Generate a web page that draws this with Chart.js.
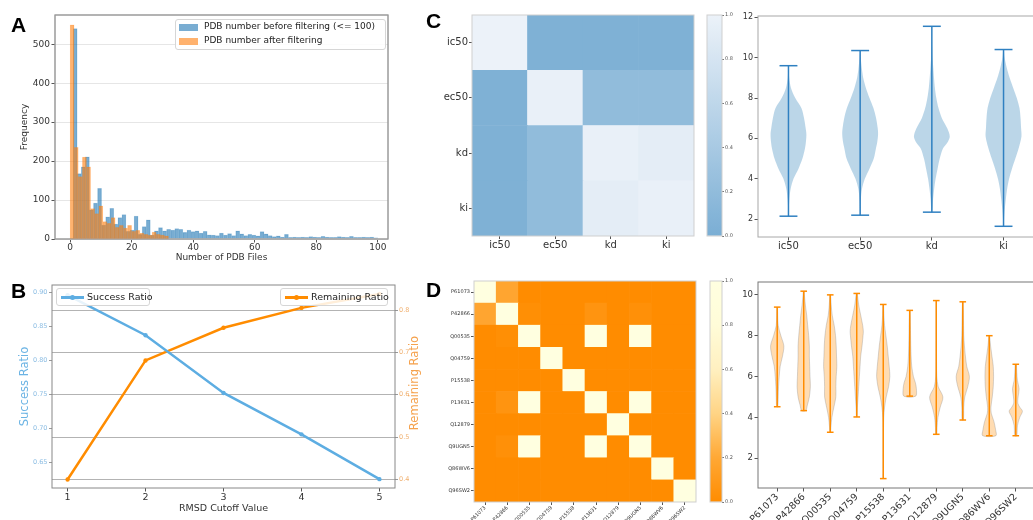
<!DOCTYPE html>
<html>
<head>
<meta charset="utf-8">
<title>PDB filtering and affinity overview</title>
<script src="https://cdn.jsdelivr.net/npm/chart.js@4.4.0/dist/chart.umd.min.js"></script>
<style>
  body { margin: 0; width: 1033px; height: 520px; overflow: hidden; background: #fff; position: relative; font-family: "DejaVu Sans", sans-serif; }
  canvas { position: absolute; }
  .letter { position: absolute; font-family: "Liberation Sans", Arial, sans-serif; font-weight: bold; font-size: 21px; line-height: 21px; color: #000; }
  .legend { position: absolute; box-sizing: border-box; border: 1px solid #d6d6d6; border-radius: 3px; background: rgba(255,255,255,0.85); color: #222; }
  .legend span { position: absolute; white-space: nowrap; }
  .patch { width: 19px; height: 7px; }
  .lsample { height: 2.5px; }
  .ldot { width: 5px; height: 5px; border-radius: 50%; }
  .vtitle { position: absolute; white-space: nowrap; transform: translate(-50%, -50%) rotate(-90deg); font-size: 11.5px; line-height: 14px; }
</style>
</head>
<body>

<!-- A is two stacked canvases: before filtering underneath, after filtering on top -->
<canvas id="histA" style="left:0;top:0" width="395" height="269"></canvas>
<canvas id="histA2" style="left:0;top:0" width="395" height="269"></canvas>
<canvas id="lineB" style="left:0;top:270px" width="425" height="250"></canvas>
<canvas id="heatC" style="left:420px;top:0" width="280" height="260"></canvas>
<canvas id="barC" style="left:700px;top:0" width="45" height="260"></canvas>
<canvas id="violinC" style="left:730px;top:0" width="306" height="260"></canvas>
<canvas id="heatD" style="left:420px;top:265px" width="280" height="255"></canvas>
<canvas id="barD" style="left:700px;top:265px" width="45" height="255"></canvas>
<canvas id="violinD" style="left:730px;top:265px" width="306" height="255"></canvas>

<div class="letter" style="left:11px;top:14px">A</div>
<div class="letter" style="left:11px;top:280px">B</div>
<div class="letter" style="left:426px;top:10px">C</div>
<div class="letter" style="left:426px;top:279px">D</div>

<div class="legend" style="left:175px;top:19px;width:211px;height:31px;font-size:9px">
  <span class="patch" style="left:3px;top:4px;background:rgba(31,119,180,0.6)"></span>
  <span style="left:28px;top:1px">PDB number before filtering (&lt;= 100)</span>
  <span class="patch" style="left:3px;top:18px;background:rgba(255,127,14,0.6)"></span>
  <span style="left:28px;top:15px">PDB number after filtering</span>
</div>

<div class="legend" style="left:56px;top:288px;width:94px;height:18px;font-size:9.5px">
  <span class="lsample" style="left:4px;top:7px;width:23px;background:#5dade2"></span>
  <span class="ldot" style="left:13px;top:6px;background:#5dade2"></span>
  <span style="left:30px;top:2px">Success Ratio</span>
</div>
<div class="legend" style="left:280px;top:288px;width:108px;height:18px;font-size:9.5px">
  <span class="lsample" style="left:4px;top:7px;width:23px;background:#ff8c00"></span>
  <span class="ldot" style="left:13px;top:6px;background:#ff8c00"></span>
  <span style="left:30px;top:2px">Remaining Ratio</span>
</div>
<!-- matplotlib writes the twin-axis label bottom-to-top, Chart.js would flip it -->
<div class="vtitle" style="left:414px;top:383px;color:#f5a24d">Remaining Ratio</div>

<script>
// ---- A: histogram of PDB files per target ----
const beforeBinStart = 1;
const beforeBinWidth = 1.32;
const beforeCounts = [540, 168, 185, 211, 75, 92, 130, 36, 57, 79, 38, 55, 63, 20, 23, 59, 12, 32, 49, 10,
  21, 29, 21, 25, 23, 27, 25, 17, 23, 19, 21, 15, 20, 11, 10, 9, 15, 10, 14, 9,
  21, 13, 9, 12, 10, 8, 19, 13, 9, 6, 8, 5, 12, 4, 5, 4, 5, 4, 6, 5,
  4, 7, 5, 4, 4, 6, 5, 4, 7, 4, 4, 5, 4, 5, 3];
const afterBinStart = 0;
const afterBinWidth = 1.333;
const afterCounts = [550, 235, 160, 210, 185, 78, 65, 85, 45, 40, 55, 30, 35, 28, 35, 20, 22, 15, 12, 10, 18, 12, 10, 8];
const histXTicks = [0, 20, 40, 60, 80, 100];
const histYTicks = [0, 100, 200, 300, 400, 500];

// ---- B: RMSD cutoff ----
const rmsdCutoffs = [1, 2, 3, 4, 5];
const successRatio = [0.896, 0.837, 0.752, 0.691, 0.625];
const remainingRatio = [0.400, 0.681, 0.758, 0.805, 0.838];
const successTicks = [0.65, 0.70, 0.75, 0.80, 0.85, 0.90];
const remainingTicks = [0.4, 0.5, 0.6, 0.7, 0.8];

// ---- C: affinity types ----
const affinityTypes = ['ic50', 'ec50', 'kd', 'ki'];
const affinityCorr = [
  [1.00, 0.04, 0.04, 0.04],
  [0.04, 0.97, 0.20, 0.20],
  [0.04, 0.20, 0.97, 0.93],
  [0.04, 0.20, 0.93, 0.97]
];
// violin outlines: [value, relative half width]
const affinityViolins = [
  [[9.6,0.01],[9,0.04],[8.5,0.14],[8,0.38],[7.5,0.72],[7,0.87],[6.5,0.96],[6.2,1],[5.8,0.97],[5.5,0.92],[5,0.78],[4.5,0.56],[4,0.28],[3.5,0.12],[3,0.05],[2.5,0.02],[2.15,0.01]],
  [[10.35,0.01],[10,0.03],[9.5,0.09],[9,0.17],[8.5,0.32],[8,0.52],[7.5,0.74],[7,0.89],[6.5,0.98],[6.2,1],[5.8,0.95],[5.5,0.88],[5,0.76],[4.5,0.52],[4,0.26],[3.5,0.1],[3,0.04],[2.5,0.02],[2.2,0.01]],
  [[11.55,0.01],[11,0.01],[10.5,0.02],[10,0.04],[9.5,0.08],[9,0.12],[8.5,0.17],[8,0.25],[7.5,0.37],[7,0.56],[6.5,0.86],[6.1,1],[5.8,0.87],[5.5,0.62],[5,0.44],[4.5,0.32],[4,0.21],[3.5,0.13],[3,0.07],[2.35,0.02]],
  [[10.4,0.02],[10,0.06],[9.5,0.18],[9,0.34],[8.5,0.54],[8,0.74],[7.5,0.89],[7,0.95],[6.5,0.98],[6.1,1],[5.5,0.84],[5,0.66],[4.5,0.47],[4,0.31],[3.5,0.2],[3,0.13],[2.5,0.07],[2,0.03],[1.65,0.01]]
];
const affinityYTicks = [2, 4, 6, 8, 10, 12];

// ---- D: proteins ----
const proteins = ['P61073', 'P42866', 'Q00535', 'Q04759', 'P15538', 'P13631', 'Q12879', 'Q9UGN5', 'Q86WV6', 'Q96SW2'];
const proteinSim = [
  [1, 0.18, 0, 0, 0, 0, 0, 0, 0, 0],
  [0.18, 1, 0.02, 0, 0, 0.06, 0, 0.03, 0, 0],
  [0, 0.02, 1, 0, 0, 1, 0, 1, 0, 0],
  [0, 0, 0, 1, 0, 0, 0, 0, 0, 0],
  [0, 0, 0, 0, 1, 0, 0, 0, 0, 0],
  [0, 0.06, 1, 0, 0, 1, 0, 1, 0, 0],
  [0, 0, 0, 0, 0, 0, 1, 0, 0, 0],
  [0, 0.03, 1, 0, 0, 1, 0, 1, 0, 0],
  [0, 0, 0, 0, 0, 0, 0, 0, 1, 0],
  [0, 0, 0, 0, 0, 0, 0, 0, 0, 1]
];
const proteinViolins = [
  [[9.4,0.05],[9,0.07],[8.5,0.15],[8,0.55],[7.5,1],[7,0.8],[6.5,0.45],[6,0.3],[5.5,0.2],[5,0.15],[4.52,0.08]],
  [[10.18,0.08],[10,0.1],[9.5,0.25],[9,0.45],[8.5,0.6],[8,0.75],[7.5,0.85],[7,0.85],[6.5,0.9],[6,0.95],[5.5,1],[5,0.85],[4.6,0.55],[4.33,0.3]],
  [[10,0.05],[9.5,0.15],[9,0.3],[8.5,0.6],[8,0.8],[7.5,0.9],[7,0.95],[6.5,1],[6,0.9],[5.5,0.85],[5,0.85],[4.5,0.55],[4,0.25],[3.5,0.1],[3.27,0.05]],
  [[10.07,0.08],[9.5,0.3],[9,0.6],[8.5,0.9],[8.2,1],[8,0.95],[7.5,0.8],[7,0.6],[6.5,0.5],[6,0.4],[5.5,0.3],[5,0.2],[4.5,0.1],[4.02,0.05]],
  [[9.53,0.05],[9,0.1],[8.5,0.2],[8,0.4],[7.5,0.6],[7,0.75],[6.5,0.9],[6,1],[5.5,0.8],[5,0.45],[4.5,0.2],[4,0.07],[3,0.03],[2,0.02],[1,0.01]],
  [[9.24,0.05],[8.5,0.1],[8,0.12],[7.5,0.15],[7,0.2],[6.5,0.3],[6,0.55],[5.7,0.85],[5.4,1],[5.04,0.9]],
  [[9.72,0.02],[8,0.03],[7,0.04],[6,0.08],[5.5,0.3],[5,1],[4.5,0.6],[4,0.25],[3.5,0.12],[3.17,0.08]],
  [[9.66,0.05],[9,0.1],[8.5,0.12],[8,0.15],[7.5,0.25],[7,0.4],[6.5,0.6],[6,1],[5.5,0.75],[5,0.3],[4.5,0.15],[3.87,0.1]],
  [[8,0.05],[7.5,0.2],[7,0.4],[6.5,0.6],[6,0.65],[5.5,0.6],[5,0.45],[4.5,0.25],[4.2,0.3],[3.8,0.7],[3.4,0.95],[3.1,1]],
  [[6.6,0.1],[6.2,0.15],[5.8,0.25],[5.4,0.5],[5,0.35],[4.7,0.3],[4.5,0.6],[4.3,1],[4,0.6],[3.6,0.25],[3.1,0.15]]
];
const proteinYTicks = [2, 4, 6, 8, 10];
const colorbarTicks = [0, 0.2, 0.4, 0.6, 0.8, 1.0];

// ---------------------------------------------------------------
Chart.defaults.font.family = '"DejaVu Sans", sans-serif';
Chart.defaults.color = '#333';
Chart.defaults.animation = false;
Chart.defaults.plugins.legend.display = false;
Chart.defaults.plugins.tooltip.enabled = false;

// matplotlib style box round the plot area
Chart.register({
  id: 'frame',
  afterDraw(chart, args, opts) {
    const a = chart.chartArea;
    const ctx = chart.ctx;
    ctx.save();
    ctx.strokeStyle = opts.color || '#888';
    ctx.lineWidth = opts.width || 1;
    ctx.strokeRect(a.left, a.top, a.right - a.left, a.bottom - a.top);
    ctx.restore();
  }
});

const fixSize = px => scale => {
  if (scale.isHorizontal()) scale.height = px; else scale.width = px;
};
const setTicks = values => scale => {
  scale.ticks = values.map(v => ({ value: v }));
};

const bluesStops = [[0, [122, 174, 212]], [1, [236, 242, 249]]];
const orangeStops = [[0, [255, 140, 0]], [0.2, [255, 168, 53]], [0.4, [255, 212, 133]], [0.6, [255, 240, 192]], [0.8, [255, 252, 216]], [1, [255, 255, 224]]];

function cmap(stops, t) {
  for (let i = 1; i < stops.length; i++) {
    if (t <= stops[i][0]) {
      const [p0, c0] = stops[i - 1], [p1, c1] = stops[i];
      const f = (t - p0) / (p1 - p0);
      const c = c0.map((v, k) => Math.round(v + (c1[k] - v) * f));
      return 'rgb(' + c.join(',') + ')';
    }
  }
  return 'rgb(' + stops[stops.length - 1][1].join(',') + ')';
}

// ---- A ----
const histX = { min: -4.9, max: 103.3 };
const histY = { min: 0, max: 575 };

function histDataset(label, start, width, counts, fill, edge) {
  return {
    label,
    data: counts.map((c, i) => ({ x: start + width * (i + 0.5), y: c })),
    backgroundColor: fill, borderColor: edge, borderWidth: 0.5,
    categoryPercentage: 1, barPercentage: 1
  };
}

new Chart(document.getElementById('histA'), {
  type: 'bar',
  data: { datasets: [histDataset('PDB number before filtering (<= 100)', beforeBinStart, beforeBinWidth, beforeCounts,
    'rgba(31,119,180,0.6)', 'rgba(31,119,180,0.25)')] },
  options: {
    responsive: false,
    layout: { padding: { top: 15, right: 7, left: 0, bottom: 0 } },
    plugins: { frame: { color: '#9a9a9a' } },
    scales: {
      x: {
        type: 'linear', ...histX, offset: false,
        afterBuildTicks: setTicks(histXTicks), afterFit: fixSize(30),
        ticks: { font: { size: 9 }, padding: 0, maxRotation: 0 },
        grid: { drawOnChartArea: false, tickLength: 3.5, tickColor: '#555', offset: false },
        border: { display: false },
        title: { display: true, text: 'Number of PDB Files', font: { size: 9 }, padding: { top: 0, bottom: 5.6 } }
      },
      y: {
        ...histY,
        afterBuildTicks: setTicks(histYTicks), afterFit: fixSize(55),
        ticks: { font: { size: 9 }, padding: 1.5 },
        grid: { color: '#e6e6e6', tickLength: 3.5, tickColor: '#555' },
        border: { display: false },
        title: { display: true, text: 'Frequency', font: { size: 9 }, padding: { top: 19.6, bottom: 0 } }
      }
    }
  }
});

// same plot area, axes hidden: only the after-filtering bars
new Chart(document.getElementById('histA2'), {
  type: 'bar',
  data: { datasets: [histDataset('PDB number after filtering', afterBinStart, afterBinWidth, afterCounts,
    'rgba(255,127,14,0.6)', 'rgba(255,127,14,0.25)')] },
  options: {
    responsive: false,
    layout: { padding: { top: 15, right: 7, left: 55, bottom: 30 } },
    plugins: { frame: { color: '#9a9a9a' } },
    scales: {
      x: { type: 'linear', ...histX, offset: false, display: false },
      y: { ...histY, display: false }
    }
  }
});

// ---- B ----
new Chart(document.getElementById('lineB'), {
  type: 'line',
  data: {
    datasets: [
      {
        label: 'Success Ratio',
        data: rmsdCutoffs.map((x, i) => ({ x, y: successRatio[i] })),
        yAxisID: 'y',
        borderColor: '#5dade2', backgroundColor: '#5dade2',
        borderWidth: 2.5, pointRadius: 2.2, pointBorderWidth: 0, tension: 0
      },
      {
        label: 'Remaining Ratio',
        data: rmsdCutoffs.map((x, i) => ({ x, y: remainingRatio[i] })),
        yAxisID: 'y1',
        borderColor: '#ff8c00', backgroundColor: '#ff8c00',
        borderWidth: 2.5, pointRadius: 2.2, pointBorderWidth: 0, tension: 0
      }
    ]
  },
  options: {
    responsive: false,
    layout: { padding: { top: 15, right: 0, left: 0, bottom: 0 } },
    plugins: { frame: { color: '#888' } },
    scales: {
      x: {
        type: 'linear', min: 0.8, max: 5.2,
        afterBuildTicks: setTicks(rmsdCutoffs), afterFit: fixSize(32),
        ticks: { font: { size: 9.5 }, padding: 0, maxRotation: 0 },
        grid: { drawOnChartArea: false, tickLength: 3.5, tickColor: '#555' },
        border: { display: false },
        title: { display: true, text: 'RMSD Cutoff Value', font: { size: 9.5 }, padding: { top: 0, bottom: 5.3 } }
      },
      y: {
        position: 'left', min: 0.612, max: 0.911,
        afterBuildTicks: setTicks(successTicks), afterFit: fixSize(52),
        ticks: { font: { size: 6.5 }, color: '#8cbde3', padding: 1.5, callback: v => v.toFixed(2) },
        grid: { drawOnChartArea: false, tickLength: 3, tickColor: '#999' },
        border: { display: false },
        title: { display: true, text: 'Success Ratio', color: '#6cb4e4', font: { size: 11.5 }, padding: { top: 18, bottom: 0 } }
      },
      y1: {
        position: 'right', min: 0.38, max: 0.859,
        afterBuildTicks: setTicks(remainingTicks), afterFit: fixSize(30),
        ticks: { font: { size: 6.5 }, color: '#f0b070', padding: 1, callback: v => v.toFixed(1) },
        grid: { color: '#b3b3b3', tickLength: 3, tickColor: '#999' },
        border: { display: false }
      }
    }
  }
});

// ---- heatmaps: one stacked bar per column, one dataset per row ----
function heatmap(canvasId, names, matrix, stops, sizes) {
  const n = names.length;
  const datasets = matrix.map((row, r) => ({
    label: names[r],
    data: row.map(() => 1),
    backgroundColor: row.map(v => cmap(stops, v)),
    borderWidth: 0,
    categoryPercentage: 1, barPercentage: 1
  })).reverse();
  const rowTicks = names.map((_, r) => n - r - 0.5);
  return new Chart(document.getElementById(canvasId), {
    type: 'bar',
    data: { labels: names, datasets },
    options: {
      responsive: false,
      layout: { padding: sizes.padding },
      plugins: { frame: { color: '#cfcfcf' } },
      scales: {
        x: {
          stacked: true, offset: true, afterFit: fixSize(sizes.xHeight),
          ticks: { font: { size: sizes.font }, padding: 0, autoSkip: false, minRotation: sizes.rotate, maxRotation: sizes.rotate },
          grid: { drawOnChartArea: false, offset: false, tickLength: 3, tickColor: '#555' },
          border: { display: false }
        },
        y: {
          stacked: true, min: 0, max: n,
          afterBuildTicks: setTicks(rowTicks), afterFit: fixSize(sizes.yWidth),
          ticks: { font: { size: sizes.font }, padding: 1, callback: v => names[n - 1 - Math.floor(v)] },
          grid: { drawOnChartArea: false, tickLength: 3, tickColor: '#555' },
          border: { display: false }
        }
      }
    }
  });
}

function colorbar(canvasId, stops, padding) {
  return new Chart(document.getElementById(canvasId), {
    type: 'bar',
    data: {
      labels: [''],
      datasets: [{
        data: [[0, 1]],
        borderWidth: 0, categoryPercentage: 1, barPercentage: 1,
        backgroundColor: context => {
          const area = context.chart.chartArea;
          if (!area) return cmap(stops, 0.5);
          const g = context.chart.ctx.createLinearGradient(0, area.bottom, 0, area.top);
          for (let t = 0; t <= 1.0001; t += 0.05) g.addColorStop(Math.min(t, 1), cmap(stops, t));
          return g;
        }
      }]
    },
    options: {
      responsive: false,
      layout: { padding },
      plugins: { frame: { color: '#cfcfcf' } },
      scales: {
        x: { display: false, offset: true },
        y: {
          position: 'right', min: 0, max: 1,
          afterBuildTicks: setTicks(colorbarTicks), afterFit: fixSize(23),
          ticks: { font: { size: 5 }, color: '#555', padding: 1, callback: v => v.toFixed(1) },
          grid: { drawOnChartArea: false, tickLength: 2, tickColor: '#777' },
          border: { display: false }
        }
      }
    }
  });
}

// ---- violins: filled outline, stem and caps on a linear x axis ----
const violinHalfWidth = 0.25;
const capHalfWidth = 0.125;

function violinSets(profiles, style) {
  const sets = [];
  profiles.forEach((prof, i) => {
    const pos = i + 1;
    const right = prof.map(p => ({ x: pos + p[1] * violinHalfWidth, y: p[0] }));
    const left = prof.map(p => ({ x: pos - p[1] * violinHalfWidth, y: p[0] })).reverse();
    sets.push({
      data: right.concat(left), fill: 'shape',
      backgroundColor: style.body, borderColor: style.edge, borderWidth: style.edgeWidth,
      pointRadius: 0, tension: 0.3, order: 2
    });
    const hi = prof[0][0], lo = prof[prof.length - 1][0];
    [
      [{ x: pos, y: lo }, { x: pos, y: hi }],
      [{ x: pos - capHalfWidth, y: hi }, { x: pos + capHalfWidth, y: hi }],
      [{ x: pos - capHalfWidth, y: lo }, { x: pos + capHalfWidth, y: lo }]
    ].forEach(seg => sets.push({
      data: seg, borderColor: style.line, borderWidth: 1.5,
      pointRadius: 0, fill: false, tension: 0, order: 1
    }));
  });
  return sets;
}

function violinChart(canvasId, names, profiles, style, axes) {
  return new Chart(document.getElementById(canvasId), {
    type: 'line',
    data: { datasets: violinSets(profiles, style) },
    options: {
      responsive: false,
      layout: { padding: axes.padding },
      plugins: { frame: { color: axes.frame } },
      scales: {
        x: {
          type: 'linear', min: axes.xmin, max: axes.xmax,
          afterBuildTicks: setTicks(names.map((_, i) => i + 1)), afterFit: fixSize(axes.xHeight),
          ticks: { font: { size: axes.xFont }, padding: 0, autoSkip: false, minRotation: axes.rotate, maxRotation: axes.rotate,
                   callback: v => names[Math.round(v) - 1] },
          grid: { drawOnChartArea: false, tickLength: 3.5, tickColor: '#555' },
          border: { display: false }
        },
        y: {
          min: axes.ymin, max: axes.ymax,
          afterBuildTicks: setTicks(axes.yTicks), afterFit: fixSize(28),
          ticks: { font: { size: axes.yFont }, padding: 1.5 },
          grid: { drawOnChartArea: false, tickLength: 3.5, tickColor: '#555' },
          border: { display: false }
        }
      }
    }
  });
}

// ---- C ----
heatmap('heatC', affinityTypes, affinityCorr, bluesStops,
  { padding: { top: 15, right: 6, left: 0, bottom: 0 }, xHeight: 24, yWidth: 52, font: 10, rotate: 0 });
colorbar('barC', bluesStops, { top: 15, right: 0, left: 7, bottom: 24 });
violinChart('violinC', affinityTypes, affinityViolins,
  { body: 'rgba(31,119,180,0.3)', edge: 'rgba(0,0,0,0)', edgeWidth: 1, line: '#2f80c1' },
  { padding: { top: 16, right: 2, left: 0, bottom: 0 }, frame: '#a8a8a8', xmin: 0.575, xmax: 4.425,
    ymin: 1.12, ymax: 12.06, yTicks: affinityYTicks, xHeight: 23, xFont: 10, yFont: 8, rotate: 0 });

// ---- D ----
heatmap('heatD', proteins, proteinSim, orangeStops,
  { padding: { top: 16, right: 4, left: 0, bottom: 0 }, xHeight: 18, yWidth: 54, font: 5, rotate: 45 });
colorbar('barD', orangeStops, { top: 16, right: 0, left: 10, bottom: 18 });
violinChart('violinD', proteins, proteinViolins,
  { body: 'rgba(255,140,0,0.3)', edge: 'rgba(130,130,130,0.45)', edgeWidth: 0.7, line: '#ff8c00' },
  { padding: { top: 17, right: 1, left: 0, bottom: 0 }, frame: '#777', xmin: 0.275, xmax: 10.725,
    ymin: 0.54, ymax: 10.63, yTicks: proteinYTicks, xHeight: 32, xFont: 9.5, yFont: 8.5, rotate: 45 });
</script>
</body>
</html>
